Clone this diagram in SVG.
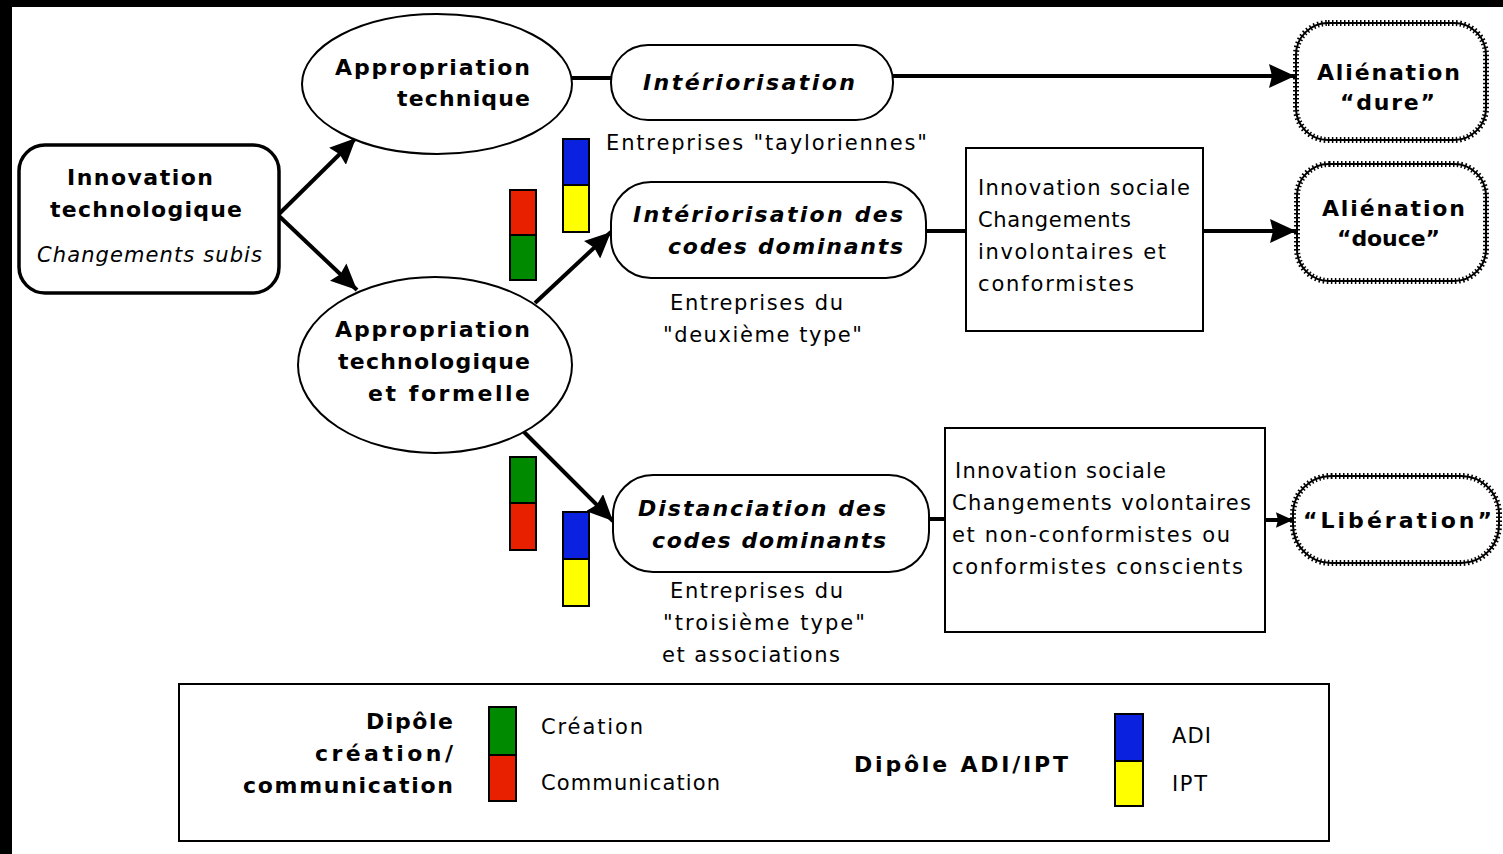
<svg xmlns="http://www.w3.org/2000/svg" width="1503" height="854" viewBox="0 0 1503 854">
  <style>
    .b { font-family: "DejaVu Sans", "Liberation Sans", sans-serif; font-weight: bold; font-size: 22px; fill: #000; }
    .bi { font-family: "DejaVu Sans", "Liberation Sans", sans-serif; font-weight: bold; font-style: italic; font-size: 22px; fill: #000; }
    .r { font-family: "DejaVu Sans", "Liberation Sans", sans-serif; font-size: 21px; fill: #000; }
    .ri { font-family: "DejaVu Sans", "Liberation Sans", sans-serif; font-style: italic; font-size: 21px; fill: #000; }
    .shape { fill: #fff; stroke: #000; stroke-width: 2; }
    .thick { fill: #fff; stroke: #000; stroke-width: 3.5; }
    .edge { fill: none; stroke: #000; stroke-width: 4; }
    .wave { fill: none; stroke: #000; stroke-width: 2; }
    .teeth { fill: none; stroke: #000; stroke-width: 6; stroke-dasharray: 1.5 2.5; }
    .bar { stroke: #000; stroke-width: 2; }
  </style>
  <defs>
    <marker id="head" markerUnits="userSpaceOnUse" viewBox="0 0 26 24" refX="26" refY="12" markerWidth="26" markerHeight="24" orient="auto">
      <path d="M0,0 L26,12 L0,24 L3,12 Z" fill="#000"/>
    </marker>
    <marker id="headSmall" markerUnits="userSpaceOnUse" viewBox="0 0 26 24" refX="26" refY="12" markerWidth="17" markerHeight="16" orient="auto">
      <path d="M0,0 L26,12 L0,24 L3,12 Z" fill="#000"/>
    </marker>
  </defs>

  <!-- page background and frame strips -->
  <rect x="0" y="0" width="1503" height="854" fill="#fff"/>
  <rect x="0" y="0" width="1503" height="7" fill="#000"/>
  <rect x="0" y="0" width="12" height="854" fill="#000"/>

  <!-- connectors -->
  <g id="connectors">
    <line class="edge" x1="279" y1="214" x2="356" y2="138" marker-end="url(#head)"/>
    <line class="edge" x1="279" y1="216" x2="357" y2="290" marker-end="url(#head)"/>
    <line class="edge" x1="572" y1="78" x2="611" y2="78"/>
    <line class="edge" x1="893" y1="76" x2="1295" y2="76" marker-end="url(#head)"/>
    <line class="edge" x1="535" y1="303" x2="611" y2="232" marker-end="url(#head)"/>
    <line class="edge" x1="926" y1="231" x2="966" y2="231"/>
    <line class="edge" x1="1203" y1="231" x2="1296" y2="231" marker-end="url(#head)"/>
    <line class="edge" x1="524" y1="432" x2="613" y2="521" marker-end="url(#head)"/>
    <line class="edge" x1="929" y1="519" x2="946" y2="519"/>
    <line class="edge" x1="1265" y1="520" x2="1293" y2="520" marker-end="url(#headSmall)"/>
  </g>

  <!-- Innovation technologique -->
  <g id="innovation">
    <rect class="thick" x="19" y="145" width="260" height="148" rx="26"/>
    <text class="b" x="67" y="185" textLength="146" lengthAdjust="spacing">Innovation</text>
    <text class="b" x="50" y="217" textLength="192" lengthAdjust="spacing">technologique</text>
    <text class="ri" x="37" y="262" textLength="225" lengthAdjust="spacing">Changements subis</text>
  </g>

  <!-- Appropriation technique -->
  <g id="appropriation-technique">
    <ellipse class="shape" cx="437" cy="84" rx="135" ry="70"/>
    <text class="b" x="335" y="75" textLength="195" lengthAdjust="spacing">Appropriation</text>
    <text class="b" x="397" y="106" textLength="133" lengthAdjust="spacing">technique</text>
  </g>

  <!-- Appropriation technologique et formelle -->
  <g id="appropriation-formelle">
    <ellipse class="shape" cx="435" cy="365" rx="137" ry="88"/>
    <text class="b" x="335" y="337" textLength="195" lengthAdjust="spacing">Appropriation</text>
    <text class="b" x="338" y="369" textLength="192" lengthAdjust="spacing">technologique</text>
    <text class="b" x="368" y="401" textLength="162" lengthAdjust="spacing">et formelle</text>
  </g>

  <!-- Intériorisation -->
  <g id="interiorisation">
    <rect class="shape" x="611" y="45" width="282" height="75" rx="37"/>
    <text class="bi" x="643" y="90" textLength="212" lengthAdjust="spacing">Intériorisation</text>
    <text class="r" x="606" y="150" textLength="321" lengthAdjust="spacing">Entreprises "tayloriennes"</text>
  </g>

  <!-- Intériorisation des codes dominants -->
  <g id="interiorisation-codes">
    <rect class="shape" x="611" y="182" width="315" height="96" rx="40"/>
    <text class="bi" x="633" y="222" textLength="270" lengthAdjust="spacing">Intériorisation des</text>
    <text class="bi" x="668" y="254" textLength="235" lengthAdjust="spacing">codes dominants</text>
    <text class="r" x="670" y="310" textLength="173" lengthAdjust="spacing">Entreprises du</text>
    <text class="r" x="663" y="342" textLength="199" lengthAdjust="spacing">"deuxième type"</text>
  </g>

  <!-- Innovation sociale (involontaire) -->
  <g id="innovation-sociale-1">
    <rect class="shape" x="966" y="148" width="237" height="183"/>
    <text class="r" x="978" y="195" textLength="212" lengthAdjust="spacing">Innovation sociale</text>
    <text class="r" x="978" y="227" textLength="153" lengthAdjust="spacing">Changements</text>
    <text class="r" x="978" y="259" textLength="188" lengthAdjust="spacing">involontaires et</text>
    <text class="r" x="978" y="291" textLength="156" lengthAdjust="spacing">conformistes</text>
  </g>

  <!-- Distanciation des codes dominants -->
  <g id="distanciation">
    <rect class="shape" x="613" y="475" width="316" height="97" rx="40"/>
    <text class="bi" x="638" y="516" textLength="248" lengthAdjust="spacing">Distanciation des</text>
    <text class="bi" x="652" y="548" textLength="234" lengthAdjust="spacing">codes dominants</text>
    <text class="r" x="670" y="598" textLength="173" lengthAdjust="spacing">Entreprises du</text>
    <text class="r" x="663" y="630" textLength="202" lengthAdjust="spacing">"troisième type"</text>
    <text class="r" x="662" y="662" textLength="178" lengthAdjust="spacing">et associations</text>
  </g>

  <!-- Innovation sociale (volontaire) -->
  <g id="innovation-sociale-2">
    <rect class="shape" x="945" y="428" width="320" height="204"/>
    <text class="r" x="955" y="478" textLength="211" lengthAdjust="spacing">Innovation sociale</text>
    <text class="r" x="952" y="510" textLength="299" lengthAdjust="spacing">Changements volontaires</text>
    <text class="r" x="952" y="542" textLength="278" lengthAdjust="spacing">et non-conformistes ou</text>
    <text class="r" x="952" y="574" textLength="291" lengthAdjust="spacing">conformistes conscients</text>
  </g>

  <!-- Aliénation "dure" -->
  <g id="alienation-dure">
    <rect fill="#fff" class="wave" x="1296" y="23" width="190" height="117" rx="32"/>
    <rect class="teeth" x="1296" y="23" width="190" height="117" rx="32"/>
    <text class="b" x="1317" y="80" textLength="143" lengthAdjust="spacing">Aliénation</text>
    <text class="b" x="1340" y="110" textLength="95" lengthAdjust="spacing">“dure”</text>
  </g>

  <!-- Aliénation "douce" -->
  <g id="alienation-douce">
    <rect fill="#fff" class="wave" x="1297" y="164" width="189" height="117" rx="32"/>
    <rect class="teeth" x="1297" y="164" width="189" height="117" rx="32"/>
    <text class="b" x="1322" y="216" textLength="143" lengthAdjust="spacing">Aliénation</text>
    <text class="b" x="1337" y="246" textLength="103" lengthAdjust="spacing">“douce”</text>
  </g>

  <!-- Libération -->
  <g id="liberation">
    <rect fill="#fff" class="wave" x="1293" y="476" width="206" height="87" rx="38"/>
    <rect class="teeth" x="1293" y="476" width="206" height="87" rx="38"/>
    <text class="b" x="1303" y="528" textLength="189" lengthAdjust="spacing">“Libération”</text>
  </g>

  <!-- dipole colour bars -->
  <g id="bars-interiorisation">
    <rect class="bar" x="563" y="139" width="26" height="46" fill="#0a22e0"/>
    <rect class="bar" x="563" y="185" width="26" height="47" fill="#ffff00"/>
  </g>
  <g id="bars-codes">
    <rect class="bar" x="510" y="190" width="26" height="45" fill="#e82000"/>
    <rect class="bar" x="510" y="235" width="26" height="45" fill="#008a00"/>
  </g>
  <g id="bars-distanciation-1">
    <rect class="bar" x="510" y="457" width="26" height="46" fill="#008a00"/>
    <rect class="bar" x="510" y="503" width="26" height="47" fill="#e82000"/>
  </g>
  <g id="bars-distanciation-2">
    <rect class="bar" x="563" y="512" width="26" height="47" fill="#0a22e0"/>
    <rect class="bar" x="563" y="559" width="26" height="47" fill="#ffff00"/>
  </g>

  <!-- legend -->
  <g id="legend">
    <rect class="shape" x="179" y="684" width="1150" height="157" stroke-width="2.5"/>
    <text class="b" x="366" y="729" textLength="87" lengthAdjust="spacing">Dipôle</text>
    <text class="b" x="315" y="761" textLength="138" lengthAdjust="spacing">création/</text>
    <text class="b" x="243" y="793" textLength="210" lengthAdjust="spacing">communication</text>
    <rect class="bar" x="489" y="707" width="27" height="48" fill="#008a00"/>
    <rect class="bar" x="489" y="755" width="27" height="46" fill="#e82000"/>
    <text class="r" x="541" y="734" textLength="102" lengthAdjust="spacing">Création</text>
    <text class="r" x="541" y="790" textLength="179" lengthAdjust="spacing">Communication</text>
    <text class="b" x="854" y="772" textLength="214" lengthAdjust="spacing">Dipôle ADI/IPT</text>
    <rect class="bar" x="1115" y="714" width="28" height="47" fill="#0a22e0"/>
    <rect class="bar" x="1115" y="761" width="28" height="45" fill="#ffff00"/>
    <text class="r" x="1172" y="743" textLength="39" lengthAdjust="spacing">ADI</text>
    <text class="r" x="1172" y="791" textLength="35" lengthAdjust="spacing">IPT</text>
  </g>
</svg>
